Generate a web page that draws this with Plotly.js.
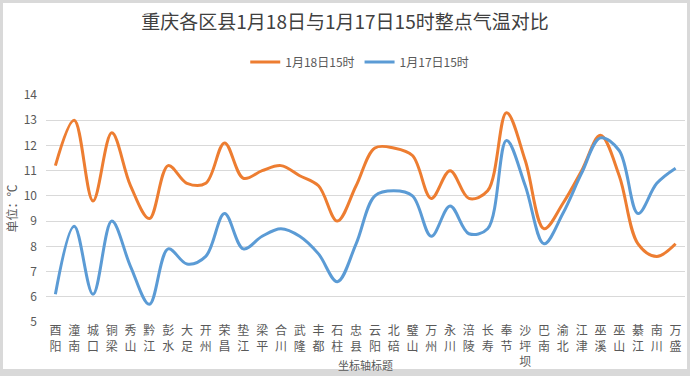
<!DOCTYPE html>
<html>
<head>
<meta charset="utf-8">
<script src="https://cdn.plot.ly/plotly-3.0.1.min.js"></script>
<style>
html,body{margin:0;padding:0;background:#fff;}
#wrap{position:relative;width:690px;height:376px;background:#d9d9d9;overflow:hidden;}
#inner{position:absolute;left:3px;top:3px;width:684px;height:366px;background:#fff;}
#chart{position:absolute;left:0;top:0;width:690px;height:376px;}
</style>
</head>
<body>
<div id="wrap"><div id="inner"></div><div id="chart"></div></div>
<script>
var districts = ["酉阳","潼南","城口","铜梁","秀山","黔江","彭水","大足","开州","荣昌","垫江","梁平","合川","武隆","丰都","石柱","忠县","云阳","北碚","璧山","万州","永川","涪陵","长寿","奉节","沙坪坝","巴南","渝北","江津","巫溪","巫山","綦江","南川","万盛"];
var temp18 = [11.2,13.0,9.8,12.5,10.4,9.1,11.2,10.5,10.5,12.1,10.7,11.0,11.2,10.8,10.4,9.0,10.4,11.9,11.9,11.6,9.9,11.0,9.9,10.2,13.3,11.4,8.7,9.7,11.0,12.4,10.8,8.1,7.6,8.1];
var temp17 = [6.1,8.8,6.1,9.0,7.2,5.7,7.9,7.3,7.6,9.3,7.9,8.4,8.7,8.4,7.7,6.6,8.1,10.0,10.2,10.0,8.4,9.6,8.5,8.7,12.2,10.4,8.1,9.3,10.9,12.3,11.8,9.3,10.5,11.1];
var yTicks = [5,6,7,8,9,10,11,12,13,14];

var tickText = districts.map(function(d){ return d.split("").join("<br>"); });
var font = "Noto Sans CJK SC, Noto Sans, sans-serif";

var traces = [
  {x: districts, y: temp18, name: "1月18日15时", type: "scatter", mode: "lines",
   line: {color: "#ED7D31", width: 3, shape: "spline", smoothing: 1}},
  {x: districts, y: temp17, name: "1月17日15时", type: "scatter", mode: "lines",
   line: {color: "#5B9BD5", width: 3, shape: "spline", smoothing: 1}}
];

var layout = {
  width: 690, height: 376,
  paper_bgcolor: "rgba(0,0,0,0)", plot_bgcolor: "rgba(0,0,0,0)",
  margin: {l: 46, r: 5, t: 95, b: 54, pad: 0},
  font: {family: font, color: "#595959", size: 12},
  title: {text: "重庆各区县1月18日与1月17日15时整点气温对比", x: 0.5, xref: "container", y: 0.94, yref: "container", yanchor: "middle",
          font: {family: font, size: 19, color: "#404040"}},
  showlegend: true,
  legend: {orientation: "h", x: 0.491, xanchor: "center", y: 1.145, yanchor: "middle",
           font: {family: font, size: 12, color: "#595959"}, itemwidth: 30, tracegroupgap: 0},
  xaxis: {type: "category", tickmode: "array", tickvals: districts, ticktext: tickText,
          range: [-0.5, districts.length - 0.5], showgrid: false, zeroline: false,
          showline: false, ticks: "", tickfont: {family: font, size: 12, color: "#595959"}, tickangle: 0},
  yaxis: {range: [5, 14], tickvals: yTicks, showgrid: true, gridcolor: "#d9d9d9", gridwidth: 1,
          zeroline: false, showline: false, ticks: "", ticklabelstandoff: 8,
          tickfont: {family: font, size: 12, color: "#595959"},
          title: {text: "单位：℃", font: {family: font, size: 12, color: "#595959"}, standoff: 3}},
  annotations: [
    {text: "坐标轴标题", xref: "paper", yref: "paper", x: 0.5, y: -0.19, xanchor: "center", yanchor: "middle",
     showarrow: false, font: {family: font, size: 11, color: "#595959"}}
  ]
};

Plotly.newPlot("chart", traces, layout, {displayModeBar: false, staticPlot: true});
</script>
</body>
</html>
